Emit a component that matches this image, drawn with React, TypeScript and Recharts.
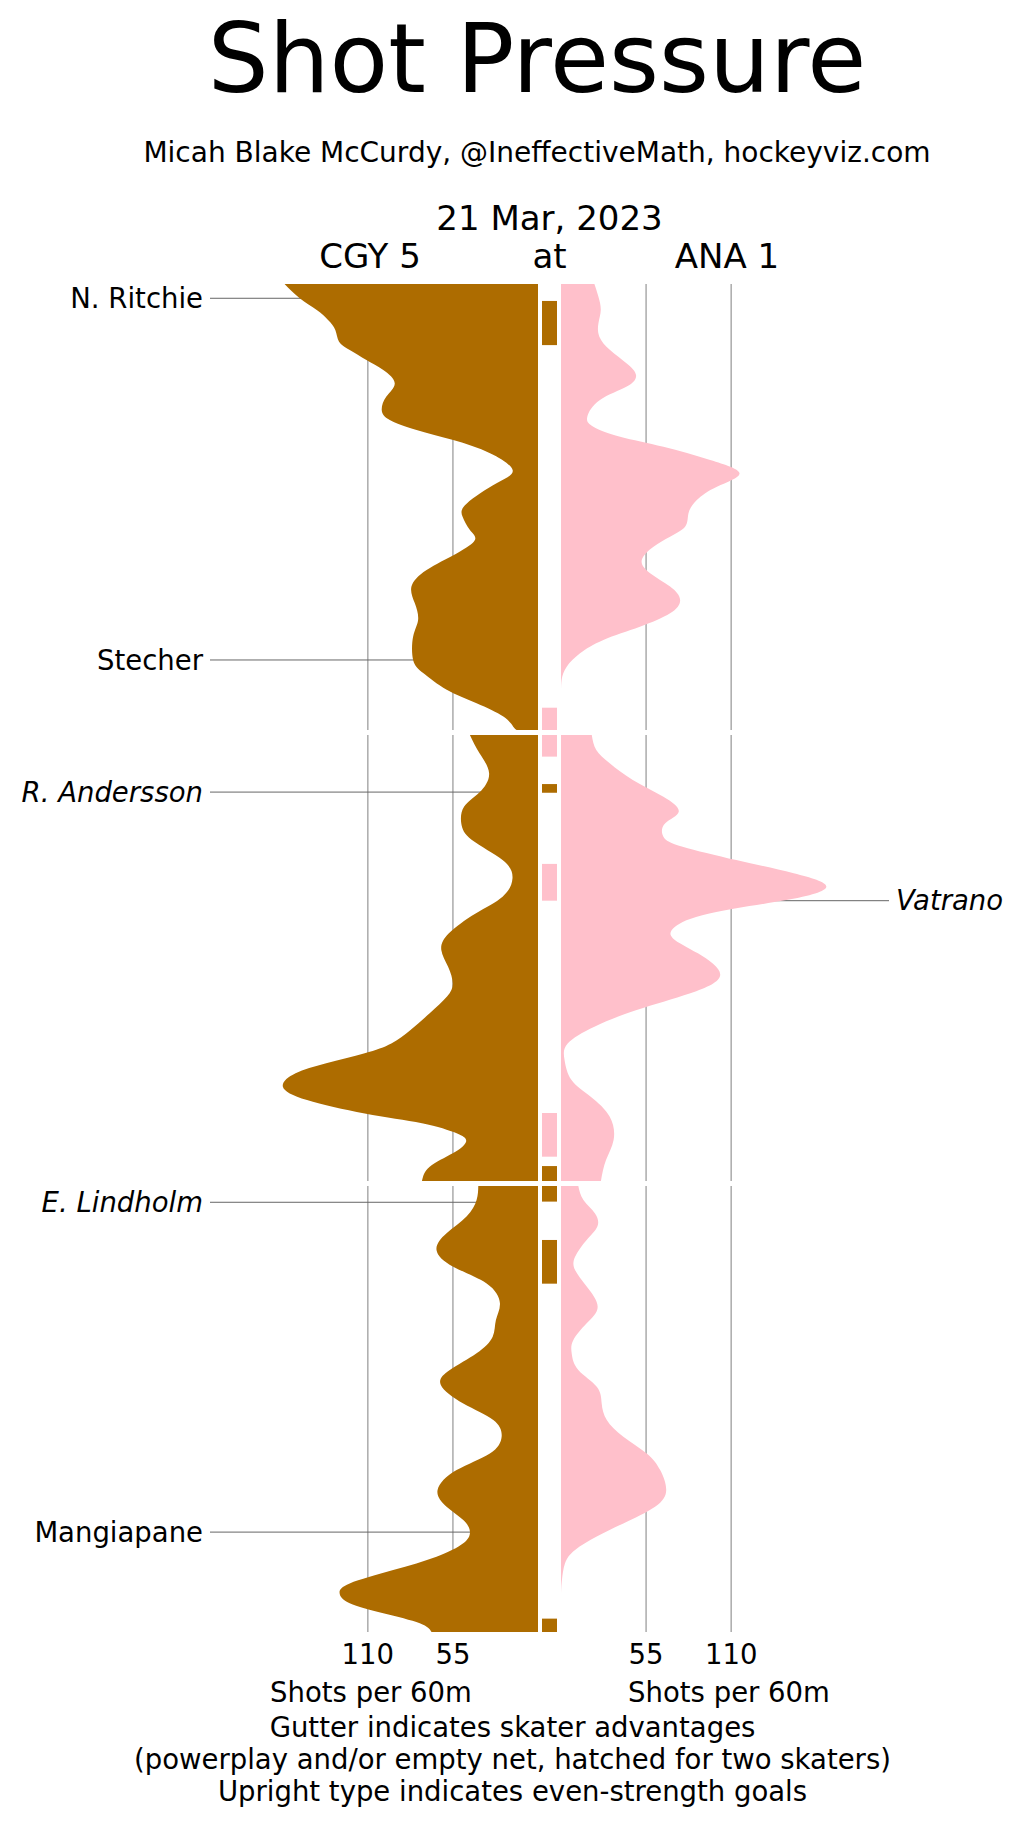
import React from "react";
import {
  ComposedChart,
  Area,
  XAxis,
  YAxis,
  CartesianGrid,
  ReferenceLine,
  ReferenceArea,
} from "recharts";

// shots-per-60 density, [minute of period, value]
const cgyP1: [number, number][] = [
  [0, 163.8], [0.64, 154], [1.17, 143], [1.61, 135.7], [2.06, 131], [2.59, 128.6],
  [2.96, 121.7], [3.41, 110.9], [3.86, 100], [4.45, 92.6], [5.05, 98], [5.65, 101],
  [6.1, 95.8], [6.55, 78.5], [7.0, 54.8], [7.59, 31], [8.34, 16.4], [8.94, 26.8],
  [9.84, 46], [10.43, 48.8], [11.03, 44], [11.48, 40.8], [12.08, 52.6], [12.82, 72],
  [13.57, 81.8], [14.32, 79.6], [15.07, 77.5], [15.81, 80.7], [16.86, 80.7], [17.46, 74],
  [18.2, 59], [18.8, 39.7], [19.4, 22.4], [19.85, 16], [20, 13.8],
];
const anaP1: [number, number][] = [
  [0, 21.6], [0.57, 24.2], [1.17, 25.7], [1.76, 24.2], [2.36, 24.8], [2.96, 31.7],
  [3.56, 42.5], [4.08, 48.5], [4.6, 42.5], [5.2, 25.2], [5.95, 17], [6.4, 20.9],
  [6.85, 38.2], [7.3, 66.2], [7.89, 96.4], [8.49, 115.4], [9.09, 100.8], [9.69, 87.8],
  [10.28, 82.4], [10.88, 80.3], [11.33, 70.5], [11.78, 59.8], [12.38, 52.2], [12.97, 57.6],
  [13.57, 70.5], [14.17, 77], [14.77, 70.5], [15.37, 51], [15.96, 27.4], [16.56, 12.3],
  [17.16, 3.7], [17.76, 0.4], [18.65, 0], [20, 0],
];
const cgyP2: [number, number][] = [
  [0, 44], [0.82, 37.8], [1.72, 31.6], [2.57, 37.8], [3.21, 47.7], [3.96, 49.6],
  [4.71, 42.7], [5.61, 22.9], [6.43, 16.5], [7.25, 22.9], [8.0, 40.3], [8.89, 57.6],
  [9.64, 62.5], [10.39, 58.1], [11.14, 55.1], [11.73, 58.8], [12.48, 70], [13.23, 82.4],
  [13.83, 94.8], [14.27, 112], [14.72, 136.9], [15.17, 156.7], [15.77, 164.9], [16.37, 149.3],
  [16.97, 112], [17.41, 75], [17.86, 52.6], [18.24, 46.5], [18.76, 55.1], [19.36, 70], [20, 75],
];
const anaP2: [number, number][] = [
  [0, 19.9], [0.67, 22.8], [1.27, 31.5], [2.02, 46.4], [2.77, 66.2], [3.44, 76.1],
  [3.96, 67.4], [4.56, 66.2], [5.01, 78.6], [5.61, 113.3], [6.2, 150.4], [6.8, 171.5],
  [7.4, 145.5], [8.0, 95.9], [8.6, 73.7], [9.12, 72.4], [9.79, 88.5], [10.76, 102.9],
  [11.58, 83.6], [12.33, 48.9], [13.08, 21.6], [13.83, 4.3], [14.57, 2.3], [15.47, 6.8],
  [16.22, 19.2], [17.12, 31.5], [18.16, 34], [19.06, 29.1], [20, 25.8],
];
const cgyP3: [number, number][] = [
  [0, 38.6], [0.63, 39.7], [1.37, 46.2], [2.12, 59.1], [2.87, 65.6], [3.62, 54.8],
  [4.37, 33.2], [5.26, 24.6], [6.01, 27.2], [6.76, 29.3], [7.5, 39.7], [8.25, 57],
  [8.92, 62.8], [9.75, 48.3], [10.49, 28.9], [11.24, 23.5], [11.99, 31.1], [12.74, 52.6],
  [13.63, 64.9], [14.38, 59.1], [14.98, 48.3], [15.5, 44], [16.02, 48.3], [16.62, 65.6],
  [17.22, 93.6], [17.82, 121.7], [18.27, 128.2], [18.71, 121.7], [19.16, 100], [19.61, 76.4],
  [20, 68.8],
];
const anaP3: [number, number][] = [
  [0, 11.2], [0.63, 14.5], [1.23, 22], [1.82, 23.5], [2.42, 16.6], [3.17, 9.1],
  [3.77, 9.1], [4.51, 16.6], [5.41, 23.7], [6.16, 16.6], [6.91, 8], [7.5, 6.9],
  [8.25, 11.2], [9.0, 23.1], [9.75, 26.3], [10.49, 29.6], [11.24, 40.3], [11.99, 55.4],
  [12.74, 64.1], [13.63, 68], [14.38, 60.8], [15.13, 40.3], [15.72, 23.1], [16.32, 9.1],
  [16.92, 2.6], [17.67, 0.6], [18.42, 0], [20, 0],
];

// skater advantages shown in the gutter, minutes within the period
type Span = { from: number; to: number; team: "CGY" | "ANA" };
const gutterP1: Span[] = [
  { from: 0.76, to: 2.74, team: "CGY" },
  { from: 19.0, to: 20, team: "ANA" },
];
const gutterP2: Span[] = [
  { from: 0, to: 0.97, team: "ANA" },
  { from: 2.2, to: 2.59, team: "CGY" },
  { from: 5.78, to: 7.43, team: "ANA" },
  { from: 16.95, to: 18.91, team: "ANA" },
  { from: 19.33, to: 20, team: "CGY" },
];
const gutterP3: Span[] = [
  { from: 0, to: 0.7, team: "CGY" },
  { from: 2.42, to: 4.38, team: "CGY" },
  { from: 19.4, to: 20, team: "CGY" },
];

type Goal = { t: number; name: string; team: "CGY" | "ANA"; evenStrength: boolean };
const goalsP1: Goal[] = [
  { t: 0.64, name: "N. Ritchie", team: "CGY", evenStrength: true },
  { t: 16.86, name: "Stecher", team: "CGY", evenStrength: true },
];
const goalsP2: Goal[] = [
  { t: 2.56, name: "R. Andersson", team: "CGY", evenStrength: false },
  { t: 7.43, name: "Vatrano", team: "ANA", evenStrength: false },
];
const goalsP3: Goal[] = [
  { t: 0.73, name: "E. Lindholm", team: "CGY", evenStrength: false },
  { t: 15.52, name: "Mangiapane", team: "CGY", evenStrength: true },
];

const gridTicks = [55, 110];

const periods = [
  { cgy: cgyP1, ana: anaP1, gutter: gutterP1, goals: goalsP1 },
  { cgy: cgyP2, ana: anaP2, gutter: gutterP2, goals: goalsP2 },
  { cgy: cgyP3, ana: anaP3, gutter: gutterP3, goals: goalsP3 },
];

const BROWN = "#ad6c00";
const PINK = "#ffc0cb";
const GRID = "#b0b0b0";
const LEADER = "#666666";
const FONT = '"DejaVu Sans", Verdana, sans-serif';
const SMALL = 27.5;
const TEAM = 34;

const PANEL_TOPS = [284, 735, 1186];
const PANEL_H = 446;
const PAD = 24; // room above each panel so labels are not clipped
const MAX = 212;
const LEFT_EDGE = 210;
const CGY_ZERO = 538;
const GUTTER_X = 542;
const GUTTER_W = 15;
const ANA_ZERO = 561;
const RIGHT_EDGE = 889;
const PAGE_W = 1025;
const AXIS_H = 40;

function Side({
  team,
  series,
  goals,
  top,
  showAxis,
}: {
  team: "CGY" | "ANA";
  series: [number, number][];
  goals: Goal[];
  top: number;
  showAxis: boolean;
}) {
  const isCgy = team === "CGY";
  const rows = series.map(([t, v]) => ({ t, v }));
  const mine = goals.filter((g) => g.team === team);
  const width = isCgy ? CGY_ZERO : PAGE_W - ANA_ZERO;
  const margin = isCgy
    ? { top: PAD, right: 0, bottom: 0, left: LEFT_EDGE }
    : { top: PAD, right: PAGE_W - RIGHT_EDGE, bottom: 0, left: 0 };
  return (
    <div style={{ position: "absolute", left: isCgy ? 0 : ANA_ZERO, top: top - PAD }}>
      <ComposedChart
        layout="vertical"
        width={width}
        height={PAD + PANEL_H + (showAxis ? AXIS_H : 0)}
        margin={margin}
        data={rows}
      >
        <CartesianGrid
          horizontal={false}
          verticalValues={gridTicks}
          stroke={GRID}
          strokeWidth={1.6}
        />
        {mine.length > 0 && (
          <CartesianGrid
            vertical={false}
            horizontalValues={mine.map((g) => g.t)}
            stroke={LEADER}
            strokeWidth={1}
          />
        )}
        <XAxis
          type="number"
          domain={[0, MAX]}
          allowDataOverflow
          reversed={isCgy}
          ticks={gridTicks}
          hide={!showAxis}
          height={AXIS_H}
          axisLine={false}
          tickLine={false}
          tickMargin={6}
          tick={{ fontSize: SMALL, fill: "#000", fontFamily: FONT }}
        />
        <YAxis type="number" dataKey="t" domain={[0, 20]} allowDataOverflow hide />
        <Area
          dataKey="v"
          type="natural"
          baseValue={0}
          fill={isCgy ? BROWN : PINK}
          fillOpacity={1}
          stroke="none"
          dot={false}
          activeDot={false}
          isAnimationActive={false}
        />
        {mine.map((g) => (
          <ReferenceLine
            key={g.name}
            y={g.t}
            stroke="none"
            label={{
              value: g.name,
              position: isCgy ? "left" : "right",
              offset: 7,
              fontSize: SMALL,
              fontFamily: FONT,
              fill: "#000",
              fontStyle: g.evenStrength ? "normal" : "italic",
            }}
          />
        ))}
      </ComposedChart>
    </div>
  );
}

function Gutter({ spans, top }: { spans: Span[]; top: number }) {
  return (
    <div style={{ position: "absolute", left: GUTTER_X, top }}>
      <ComposedChart
        layout="vertical"
        width={GUTTER_W}
        height={PANEL_H}
        margin={{ top: 0, right: 0, bottom: 0, left: 0 }}
        data={spans}
      >
        <XAxis type="number" domain={[0, 1]} allowDataOverflow hide />
        <YAxis type="number" dataKey="from" domain={[0, 20]} allowDataOverflow hide />
        {spans.map((s) => (
          <ReferenceArea
            key={`${s.team}-${s.from}`}
            x1={0}
            x2={1}
            y1={s.from}
            y2={s.to}
            fill={s.team === "CGY" ? BROWN : PINK}
            fillOpacity={1}
            stroke="none"
            ifOverflow="visible"
          />
        ))}
      </ComposedChart>
    </div>
  );
}

export default function App() {
  return (
    <div
      style={{
        position: "absolute",
        left: 0,
        top: 0,
        width: PAGE_W,
        height: 1827,
        background: "#fff",
        fontFamily: FONT,
      }}
    >
      <svg
        width={PAGE_W}
        height={1827}
        style={{ position: "absolute", left: 0, top: 0 }}
        fontFamily={FONT}
      >
        <text x={537} y={92} fontSize={96} textAnchor="middle">
          Shot Pressure
        </text>
        <text x={537} y={162} fontSize={28} textAnchor="middle">
          Micah Blake McCurdy, @IneffectiveMath, hockeyviz.com
        </text>
        <text x={549.5} y={230} fontSize={TEAM} textAnchor="middle">
          21 Mar, 2023
        </text>
        <text x={370} y={268} fontSize={TEAM} textAnchor="middle">
          CGY 5
        </text>
        <text x={549.5} y={268} fontSize={TEAM} textAnchor="middle">
          at
        </text>
        <text x={727} y={268} fontSize={TEAM} textAnchor="middle">
          ANA 1
        </text>
        <text x={371} y={1702} fontSize={SMALL} textAnchor="middle">
          Shots per 60m
        </text>
        <text x={729} y={1702} fontSize={SMALL} textAnchor="middle">
          Shots per 60m
        </text>
        <text x={512.5} y={1737} fontSize={SMALL} textAnchor="middle">
          Gutter indicates skater advantages
        </text>
        <text x={512.5} y={1769} fontSize={SMALL} textAnchor="middle">
          (powerplay and/or empty net, hatched for two skaters)
        </text>
        <text x={512.5} y={1801} fontSize={SMALL} textAnchor="middle">
          Upright type indicates even-strength goals
        </text>
      </svg>
      {periods.map((p, i) => (
        <React.Fragment key={i}>
          <Side team="CGY" series={p.cgy} goals={p.goals} top={PANEL_TOPS[i]} showAxis={i === 2} />
          <Gutter spans={p.gutter} top={PANEL_TOPS[i]} />
          <Side team="ANA" series={p.ana} goals={p.goals} top={PANEL_TOPS[i]} showAxis={i === 2} />
        </React.Fragment>
      ))}
    </div>
  );
}
